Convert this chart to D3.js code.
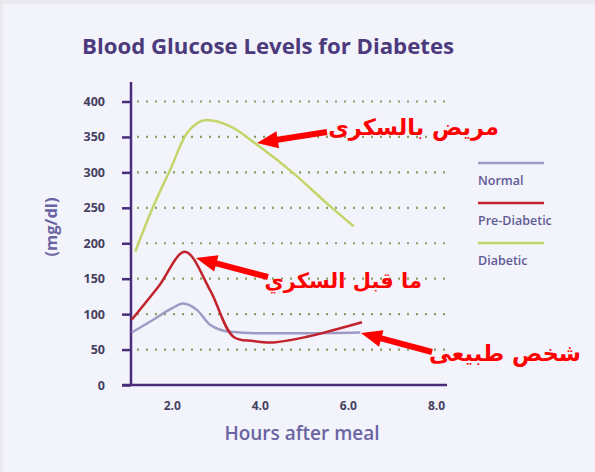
<!DOCTYPE html>
<html>
<head>
<meta charset="utf-8">
<script src="https://cdn.jsdelivr.net/npm/d3@7"></script>
<style>
  html, body { margin: 0; padding: 0; background: #f3f3fb; }
  svg { display: block; }
</style>
</head>
<body>
<svg id="chart" width="595" height="472"></svg>
<script>
// ---- data ----
const yTicks = [0, 50, 100, 150, 200, 250, 300, 350, 400];
const xTicks = [2, 4, 6, 8];
const seriesNames = ["Normal", "Pre-Diabetic", "Diabetic"];
const seriesColors = ["#9d9bc4", "#c1222b", "#c3d66a"];

const normalHours = [1.09, 1.58, 2.0, 2.26, 2.57, 2.87, 3.33, 4.0, 5.0, 6.28];
const normalValues = [74, 92, 108, 115, 106, 85, 75, 73, 73, 74];

const preHours = [1.09, 1.7, 2.3, 2.87, 3.4, 3.85, 4.31, 5.07, 5.7, 6.32];
const preValues = [92, 139, 188, 134, 68, 62, 60, 68, 78, 88.5];

const diabeticHours = [1.17, 1.58, 1.96, 2.34, 2.8, 3.33, 4.0, 4.76, 5.6, 6.13];
const diabeticValues = [188, 252, 303, 355, 374, 365, 336, 299, 252, 224];

const annotations = ["مريض بالسكرى", "ما قبل السكري", "شخص طبيعى"];

// ---- layout ----
const svg = d3.select("#chart");
// frame
svg.append("rect").attr("x", 0).attr("y", 0).attr("width", 595).attr("height", 472).attr("fill", "#e9e9ee");
svg.append("rect").attr("x", 3).attr("y", 4).attr("width", 592).attr("height", 468).attr("fill", "#f3f3fb");

const x = d3.scaleLinear().domain([1.075, 8.25]).range([131, 447]);
const y = d3.scaleLinear().domain([0, 400]).range([385, 101.5]);

// title
svg.append("text")
  .attr("x", 82).attr("y", 54)
  .attr("font-family", "'Open Sans', sans-serif")
  .attr("font-weight", 700)
  .attr("font-size", 22.2)
  .attr("fill", "#4b3a7c")
  .text("Blood Glucose Levels for Diabetes");

// gridlines
svg.append("g").selectAll("line")
  .data(yTicks.filter(d => d > 0))
  .join("line")
  .attr("x1", 137).attr("x2", 447)
  .attr("y1", d => y(d)).attr("y2", d => y(d))
  .attr("stroke", "#8e9d62")
  .attr("stroke-width", 2.2)
  .attr("stroke-dasharray", "2 7");

// y axis
const yAxis = d3.axisLeft(y).tickValues(yTicks).tickSize(9).tickPadding(17).tickFormat(d3.format("d"));
const gy = svg.append("g").attr("transform", "translate(131,0)").call(yAxis);
gy.select(".domain").attr("d", "M0,82V385").attr("stroke", "#4a2d7a").attr("stroke-width", 2.5);
gy.selectAll(".tick line").attr("stroke", "#4a2d7a").attr("stroke-width", 2.5);
gy.selectAll(".tick text")
  .attr("font-family", "'Open Sans', sans-serif").attr("font-weight", 700)
  .attr("font-size", 12.5).attr("fill", "#45405f");

// x axis
const xAxis = d3.axisBottom(x).tickValues(xTicks).tickSize(0).tickPadding(16).tickFormat(d3.format(".1f"));
const gx = svg.append("g").attr("transform", "translate(0,385)").call(xAxis);
gx.select(".domain").attr("d", "M122,0H447").attr("stroke", "#4a2d7a").attr("stroke-width", 2.5);
gx.selectAll(".tick text")
  .attr("font-family", "'Open Sans', sans-serif").attr("font-weight", 700)
  .attr("font-size", 12).attr("fill", "#45405f");

// axis titles
svg.append("text")
  .attr("transform", "translate(57,227) rotate(-90)")
  .attr("text-anchor", "middle")
  .attr("font-family", "'Open Sans', sans-serif").attr("font-weight", 700)
  .attr("font-size", 16.5).attr("fill", "#6a64a3")
  .text("(mg/dl)");
svg.append("text")
  .attr("x", 302).attr("y", 440)
  .attr("text-anchor", "middle")
  .attr("font-family", "'Open Sans', sans-serif").attr("font-weight", 600)
  .attr("font-size", 19).attr("fill", "#6a64a3")
  .text("Hours after meal");

// lines
const series = [
  { hours: normalHours, values: normalValues, curve: d3.curveMonotoneX },
  { hours: preHours, values: preValues, curve: d3.curveCatmullRom.alpha(0.5) },
  { hours: diabeticHours, values: diabeticValues, curve: d3.curveMonotoneX }
];
series.forEach((s, i) => {
  const pts = s.hours.map((h, j) => [h, s.values[j]]);
  const line = d3.line().x(d => x(d[0])).y(d => y(d[1])).curve(s.curve);
  svg.append("path")
    .attr("d", line(pts))
    .attr("fill", "none")
    .attr("stroke", seriesColors[i])
    .attr("stroke-width", 2.5)
    .attr("stroke-linejoin", "round");
});

// legend
const legend = svg.append("g");
seriesNames.forEach((name, i) => {
  const ly = 163 + i * 40;
  legend.append("line")
    .attr("x1", 478).attr("x2", 544).attr("y1", ly).attr("y2", ly)
    .attr("stroke", seriesColors[i]).attr("stroke-width", 2.5);
  legend.append("text")
    .attr("x", 478).attr("y", ly + 22)
    .attr("font-family", "'Open Sans', sans-serif").attr("font-weight", 600)
    .attr("font-size", 12.5).attr("fill", "#5f5b94")
    .text(name);
});

// annotations: arrows + Arabic labels
const arrowSpecs = [
  { tail: [327, 132], tip: [257, 143], tx: 499, ty: 135, fs: 22.5 },
  { tail: [268, 277], tip: [196, 258], tx: 422, ty: 288, fs: 21 },
  { tail: [432, 352], tip: [361, 333], tx: 581, ty: 361, fs: 22.5 }
];
const ann = svg.append("g");
arrowSpecs.forEach((a, i) => {
  const dx = a.tip[0] - a.tail[0], dy = a.tip[1] - a.tail[1];
  const len = Math.hypot(dx, dy);
  const ux = dx / len, uy = dy / len;
  const headLen = 21, headW = 8.5;
  const bx = a.tip[0] - ux * headLen, by = a.tip[1] - uy * headLen;
  ann.append("line")
    .attr("x1", a.tail[0]).attr("y1", a.tail[1]).attr("x2", bx + ux * 2).attr("y2", by + uy * 2)
    .attr("stroke", "#ff0000").attr("stroke-width", 6);
  ann.append("path")
    .attr("d", `M${a.tip[0]},${a.tip[1]}L${bx - uy * headW},${by + ux * headW}L${bx + uy * headW},${by - ux * headW}Z`)
    .attr("fill", "#ff0000");
  ann.append("text")
    .attr("x", a.tx).attr("y", a.ty)
    .attr("text-anchor", "end")
    .attr("font-family", "'DejaVu Sans', sans-serif").attr("font-weight", 700)
    .attr("font-size", a.fs).attr("fill", "#ff0000")
    .text(annotations[i]);
});
</script>
</body>
</html>
